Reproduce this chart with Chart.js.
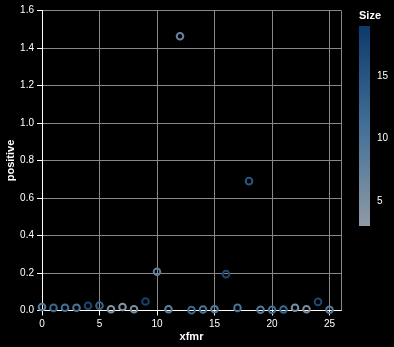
<!DOCTYPE html>
<html>
<head>
<meta charset="utf-8">
<script src="https://cdn.jsdelivr.net/npm/chart.js@4"></script>
<style>
  html, body { margin: 0; padding: 0; background: #000; }
  #chart { display: block; }
</style>
</head>
<body>
<canvas id="chart" width="394" height="347"></canvas>
<script>
// data
var xfmr = [0, 1, 2, 3, 4, 5, 6, 7, 8, 9, 10, 11, 12, 13, 14, 15, 16, 17, 18, 19, 20, 21, 22, 23, 24, 25];
var positive = [0.019, 0.014, 0.015, 0.015, 0.025, 0.026, 0.007, 0.019, 0.007, 0.048, 0.207, 0.007, 1.463,
  0.002, 0.005, 0.007, 0.194, 0.014, 0.69, 0.004, 0.004, 0.005, 0.015, 0.007, 0.046, 0.004];
var size = [9, 12, 11, 10, 17, 13, 4, 4, 5, 18, 8, 8, 7, 12, 10, 9, 17, 10, 15, 9, 11, 12, 5, 5, 17, 9];

var sizeDomain = [3, 19];
var sizeTicks = [5, 10, 15];

// colour ramp for Size (low -> high)
var ramp = [[142, 154, 166], [66, 112, 152], [12, 58, 107]];

function sizeColor(v) {
  var t = (v - sizeDomain[0]) / (sizeDomain[1] - sizeDomain[0]);
  t = Math.max(0, Math.min(1, t));
  var seg = t < 0.5 ? 0 : 1;
  var u = seg === 0 ? t * 2 : (t - 0.5) * 2;
  var a = ramp[seg], b = ramp[seg + 1];
  var c = a.map(function (x, i) { return Math.round(x + (b[i] - x) * u); });
  return 'rgb(' + c.join(',') + ')';
}

var points = xfmr.map(function (x, i) { return { x: x, y: positive[i] }; });
var colors = size.map(sizeColor);

var font = 'Liberation Sans, Arial, Helvetica, sans-serif';

// black background + right border of plot + Size legend
var extras = {
  id: 'extras',
  beforeDraw: function (chart) {
    var ctx = chart.ctx;
    ctx.save();
    ctx.fillStyle = '#000';
    ctx.fillRect(0, 0, chart.width, chart.height);
    ctx.restore();
  },
  beforeDatasetsDraw: function (chart) {
    var ctx = chart.ctx, a = chart.chartArea;
    ctx.save();
    ctx.strokeStyle = '#888';
    ctx.lineWidth = 1;
    ctx.beginPath();
    ctx.moveTo(Math.round(a.right) + 0.5, a.top);
    ctx.lineTo(Math.round(a.right) + 0.5, a.bottom);
    ctx.stroke();
    ctx.restore();
  },
  afterDraw: function (chart) {
    var ctx = chart.ctx;
    var lx = 359, lw = 11, top = 26, bottom = 226;
    ctx.save();
    var g = ctx.createLinearGradient(0, bottom, 0, top);
    for (var k = 0; k <= 10; k++) {
      var v = sizeDomain[0] + (sizeDomain[1] - sizeDomain[0]) * k / 10;
      g.addColorStop(k / 10, sizeColor(v));
    }
    ctx.fillStyle = g;
    ctx.fillRect(lx, top, lw, bottom - top);

    ctx.fillStyle = '#fff';
    ctx.font = 'bold 11px ' + font;
    ctx.textBaseline = 'middle';
    ctx.textAlign = 'left';
    ctx.fillText('Size', lx, 16);

    ctx.font = '10px ' + font;
    sizeTicks.forEach(function (v) {
      var y = bottom - (v - sizeDomain[0]) / (sizeDomain[1] - sizeDomain[0]) * (bottom - top);
      ctx.fillText(String(v), lx + 18, y);
    });
    ctx.restore();
  }
};

var ctx = document.getElementById('chart').getContext('2d');
var myChart = new Chart(ctx, {
  type: 'scatter',
  data: {
    datasets: [{
      label: 'positive',
      data: points,
      showLine: false,
      pointRadius: 3.3,
      pointHoverRadius: 3.3,
      pointBorderWidth: 2,
      pointBackgroundColor: 'rgba(0,0,0,0)',
      pointBorderColor: colors,
      clip: false
    }]
  },
  options: {
    responsive: false,
    animation: false,
    layout: { padding: { left: 0, top: 10.5, right: 53, bottom: 0 } },
    plugins: {
      legend: { display: false },
      tooltip: { enabled: false }
    },
    scales: {
      x: {
        type: 'linear',
        min: 0,
        max: 26,
        afterFit: function (s) { s.height = 36.5; },
        afterBuildTicks: function (s) {
          s.ticks = [0, 5, 10, 15, 20, 25].map(function (v) { return { value: v }; });
        },
        grid: { color: '#888', tickColor: '#fff', tickLength: 5 },
        border: { color: '#fff', width: 1 },
        ticks: { color: '#fff', font: { family: font, size: 10 }, padding: 3, maxRotation: 0 },
        title: {
          display: true, text: 'xfmr', color: '#fff',
          font: { family: font, size: 11, weight: 'bold' },
          padding: { top: 0, bottom: 3 }
        }
      },
      y: {
        min: 0,
        max: 1.6,
        afterFit: function (s) { s.width = 42; },
        grid: { color: '#888', tickColor: '#fff', tickLength: 5 },
        border: { color: '#fff', width: 1 },
        ticks: {
          stepSize: 0.2,
          color: '#fff',
          font: { family: font, size: 10 },
          padding: 3,
          callback: function (v) { return v.toFixed(1); }
        },
        title: {
          display: true, text: 'positive', color: '#fff',
          font: { family: font, size: 11, weight: 'bold' },
          padding: { top: 4, bottom: 0 }
        }
      }
    }
  },
  plugins: [extras]
});
</script>
</body>
</html>
